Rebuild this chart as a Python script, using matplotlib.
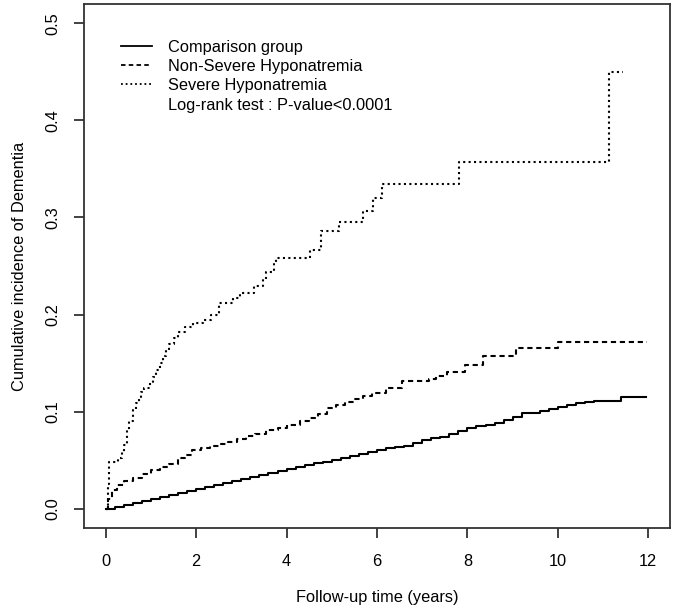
import matplotlib
matplotlib.use("Agg")
import matplotlib.pyplot as plt
import numpy as np

plt.rcParams['font.family'] = ['Liberation Sans', 'DejaVu Sans']

# ---- data ----
comp_t = [0, 0.2, 0.4, 0.6, 0.8, 1.0, 1.2, 1.4, 1.6, 1.8, 2.0, 2.2, 2.4, 2.6, 2.8,
          3.0, 3.2, 3.4, 3.6, 3.8, 4.0, 4.2, 4.4, 4.6, 4.8, 5.0, 5.2, 5.4, 5.6, 5.8,
          6.0, 6.2, 6.4, 6.6, 6.8, 7.0, 7.2, 7.4, 7.6, 7.8, 8.0, 8.2, 8.4, 8.6, 8.8,
          9.0, 9.2, 9.4, 9.6, 9.8, 10.0, 10.2, 10.4, 10.6, 10.8, 11.4, 11.95]
comp_y = [0, 0.002, 0.004, 0.006, 0.008, 0.010, 0.012, 0.014, 0.016, 0.018, 0.020,
          0.022, 0.024, 0.026, 0.028, 0.030, 0.033, 0.035, 0.037, 0.039, 0.041, 0.043,
          0.045, 0.047, 0.048, 0.050, 0.052, 0.054, 0.056, 0.058, 0.060, 0.062, 0.063,
          0.065, 0.068, 0.071, 0.073, 0.074, 0.077, 0.080, 0.083, 0.085, 0.086, 0.088,
          0.091, 0.094, 0.098, 0.099, 0.101, 0.103, 0.105, 0.107, 0.109, 0.110, 0.111,
          0.115, 0.115]

nonsev_t = [0, 0.05, 0.15, 0.25, 0.4, 0.6, 0.8, 1.0, 1.2, 1.4, 1.6, 1.75, 1.9, 2.1,
            2.3, 2.5, 2.7, 2.9, 3.1, 3.3, 3.55, 3.8, 4.0, 4.3, 4.5, 4.7, 4.9, 5.1, 5.3,
            5.5, 5.7, 5.9, 6.2, 6.55, 7.15, 7.3, 7.55, 7.95, 8.35, 9.08, 10.0, 11.98]
nonsev_y = [0, 0.010, 0.019, 0.024, 0.028, 0.032, 0.036, 0.040, 0.043, 0.046, 0.052,
            0.055, 0.060, 0.062, 0.065, 0.067, 0.069, 0.072, 0.075, 0.077, 0.081, 0.083,
            0.086, 0.090, 0.093, 0.097, 0.104, 0.107, 0.110, 0.113, 0.116, 0.119, 0.124,
            0.131, 0.134, 0.137, 0.141, 0.148, 0.157, 0.165, 0.172, 0.172]

sev_t = [0, 0.04, 0.08, 0.28, 0.35, 0.40, 0.46, 0.52, 0.6, 0.68, 0.74, 0.79, 0.85,
         0.97, 1.05, 1.12, 1.19, 1.26, 1.33, 1.41, 1.5, 1.6, 1.75, 1.93, 2.15, 2.33,
         2.50, 2.81, 2.96, 3.29, 3.48, 3.55, 3.73, 3.77, 4.51, 4.77, 5.17, 5.69, 5.91,
         6.11, 7.81, 11.12, 11.43]
sev_y = [0, 0.025, 0.048, 0.052, 0.0585, 0.066, 0.081, 0.090, 0.1015, 0.1085, 0.115,
         0.1205, 0.124, 0.129, 0.136, 0.143, 0.150, 0.157, 0.163, 0.170, 0.176, 0.182,
         0.1876, 0.1917, 0.1945, 0.1997, 0.212, 0.217, 0.222, 0.229, 0.237, 0.244,
         0.253, 0.258, 0.267, 0.286, 0.295, 0.307, 0.320, 0.334, 0.357, 0.450, 0.450]

labels = ["Comparison group", "Non-Severe Hyponatremia", "Severe Hyponatremia"]
test_text = "Log-rank test : P-value<0.0001"
x_ticks = [0, 2, 4, 6, 8, 10, 12]
y_ticks = [0.0, 0.1, 0.2, 0.3, 0.4, 0.5]

FS = 11.8
W, H = 673, 612
fig = plt.figure(figsize=(W / 100, H / 100), dpi=100)
L, R, T, B = 84, 670, 4, 528
ax = fig.add_axes([L / W, 1 - B / H, (R - L) / W, (B - T) / H])

lw = 1.5
styles = [dict(linestyle='-'),
          dict(linestyle=(0, (2.5, 1.8))),
          dict(linestyle=(0, (1.0, 1.6)))]
series = [(comp_t, comp_y), (nonsev_t, nonsev_y), (sev_t, sev_y)]
for (t, y), st in zip(series, styles):
    ax.plot(t, y, drawstyle='steps-post', color='black', lw=lw, **st)

ax.set_xlim(-0.48, 12.48)
ax.set_ylim(-0.02, 0.52)
ax.set_xticks(x_ticks)
ax.set_xticklabels([str(v) for v in x_ticks])
ax.set_yticks(y_ticks)
ax.set_yticklabels([f"{v:.1f}" for v in y_ticks], rotation=90, va='center')
for s in ax.spines.values():
    s.set_color('#333333')
    s.set_linewidth(1.3)
ax.tick_params(direction='out', length=7, width=1.3, color='#333333',
               labelsize=FS, pad=12)
ax.tick_params(axis='y', pad=10)
ax.set_xlabel("Follow-up time (years)", fontsize=FS, labelpad=15)
ax.set_ylabel("Cumulative incidence of Dementia", fontsize=FS, labelpad=13)

# legend drawn manually (pixel layout -> axes fraction)
def ax_x(px):
    return (px - L) / (R - L)

def ax_y(py):
    return (B - py) / (B - T)

baselines = [51.7, 70.7, 90.0, 110.0]
for i, (lab, st) in enumerate(zip(labels, styles)):
    yb = baselines[i]
    ax.plot([ax_x(120.7), ax_x(151.5)], [ax_y(yb - 6.0)] * 2, transform=ax.transAxes,
            color='black', lw=1.3, **st)
    ax.text(ax_x(168), ax_y(yb), lab, transform=ax.transAxes, fontsize=FS,
            va='baseline', ha='left')
ax.text(ax_x(168), ax_y(baselines[3]), test_text, transform=ax.transAxes,
        fontsize=FS, va='baseline', ha='left')

fig.savefig("out.png", dpi=100)
